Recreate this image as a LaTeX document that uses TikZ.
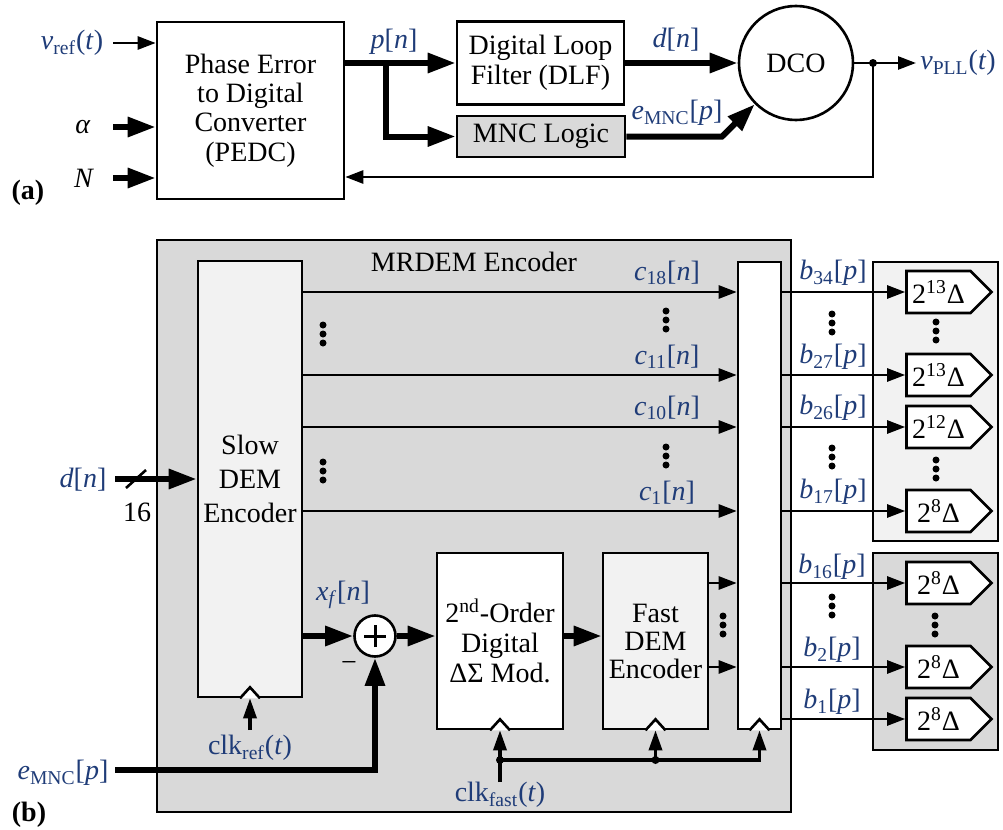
\documentclass[tikz,border=0pt]{standalone}
\usepackage{fontspec}
\setmainfont{Liberation Serif}
\usepackage{tikz}
\usetikzlibrary{arrows.meta,positioning,shapes.symbols}
\definecolor{pllBlue}{HTML}{1F3C78}
\definecolor{pllGray}{HTML}{D9D9D9}
\definecolor{pllLight}{HTML}{F2F2F2}
\newcommand{\labfont}{\fontsize{14}{15.5}\selectfont}
\newcommand{\sigof}[2]{\textit{#1}[\textit{#2}]}
\newcommand{\sigsub}[3]{\textit{#1}\textsubscript{#2}[\textit{#3}]}
\newcommand{\vdotsat}[1]{\fill (#1) circle (1.75pt) ++(0pt,4.5pt) circle (1.75pt) ++(0pt,-9pt) circle (1.75pt);}
\newcommand{\clkmark}[1]{\draw[wire, fill=white] ([xshift=-5pt]#1.south) -- ++(5pt,5.5pt) -- ++(5pt,-5.5pt);}
\tikzset{
  blk/.style={
    rectangle,
    draw,
    line width=1.3pt,
    fill=white,
    align=center,
    inner sep=0pt,
    font=\labfont
  },
  dac/.style={
    signal,
    signal to=east,
    draw,
    line width=1.3pt,
    fill=white,
    inner sep=0pt,
    minimum width=42.5pt,
    minimum height=21pt,
    font=\labfont
  },
  sumnode/.style={circle, draw, line width=1.3pt, fill=white, minimum size=20.5pt, inner sep=0pt},
  lab/.style={font=\labfont, inner sep=2pt},
  sig/.style={lab, text=pllBlue},
  wire/.style={line width=1.3pt},
  bus/.style={line width=3pt},
  arrow/.style={wire, -{Triangle[length=9pt,width=6.5pt]}},
  busarrow/.style={bus, -{Triangle[length=14pt,width=9.5pt]}},
  clkarrow/.style={line width=1.7pt, -{Triangle[length=10pt,width=6.5pt]}}
}
\begin{document}
\begin{tikzpicture}[x=0.5pt,y=-0.5pt]
  \useasboundingbox (0,0) rectangle (1003,830);

  % (a) the PLL
  \node[blk, minimum width=93.5pt, minimum height=88.5pt, font=\fontsize{14}{14.6}\selectfont] (pedc) at (250.5,110.5) {Phase Error\\to Digital\\Converter\\(PEDC)};
  \node[blk, minimum width=83.5pt, minimum height=41.5pt, font=\fontsize{14}{15}\selectfont] (dlf) at (540.5,63) {Digital Loop\\Filter (DLF)};
  \node[blk, fill=pllGray, minimum width=84pt, minimum height=20.5pt] (mnc) at (541,136.5) {MNC Logic};
  \node[blk, circle, minimum size=57pt] (dco) at (796,63) {DCO};

  \node[sig] (vref) at (72,43) {\textit{v}\textsubscript{ref}(\textit{t})};
  \node[lab] (alpha) at (83,127) {\textit{α}};
  \node[lab] (nin) at (84,178) {\textit{N}};
  \node[lab, font=\labfont\bfseries] (tagA) at (28,193) {(a)};
  \node[sig] (pn) at (394,42) {\sigof{p}{n}};
  \node[sig] (dn) at (676,40) {\sigof{d}{n}};
  \node[sig] (emnc) at (677,113) {\sigsub{e}{MNC}{p}};
  \node[sig, anchor=west] (vpll) at (916,63) {\textit{v}\textsubscript{PLL}(\textit{t})};

  \coordinate (vrefin) at (113,43);
  \coordinate (alphain) at (113,127);
  \coordinate (nin0) at (113,178);
  \coordinate (pbr) at (386,63);
  \coordinate (mbend) at (722,136.5);
  \coordinate (fbdot) at (873,63);
  \coordinate (fbturn) at (873,177);

  \draw[arrow] (vrefin) -- (vrefin -| pedc.west);
  \draw[busarrow] (alphain) -- (alphain -| pedc.west);
  \draw[busarrow] (nin0) -- (nin0 -| pedc.west);
  \draw[busarrow] (pedc.east |- dlf) -- (dlf.west);
  \draw[busarrow] (pbr) |- (mnc.west);
  \draw[busarrow] (dlf.east) -- (dco.west);
  \draw[busarrow] (mnc.east) -- (mbend) -- (dco.225);
  \draw[wire] (dco.east) -- (fbdot);
  \draw[arrow] (fbdot) -- (vpll.west);
  \draw[arrow] (fbdot) -- (fbturn) -- (fbturn -| pedc.east);
  \fill (fbdot) circle (2pt);

  % (b) the MRDEM encoder
  \node[blk, fill=pllGray, minimum width=317pt, minimum height=286pt] (mrdem) at (474,526) {};
  \node[lab] (mrdemtitle) at (474,262) {MRDEM Encoder};
  \node[blk, fill=pllLight, minimum width=52pt, minimum height=218pt, font=\fontsize{14}{17}\selectfont] (slow) at (250,479) {Slow\\DEM\\Encoder};
  \node[blk, minimum width=21.5pt, minimum height=233.5pt] (mux) at (759.5,495.5) {};
  \node[blk, minimum width=63pt, minimum height=88pt, font=\fontsize{14}{15}\selectfont] (dsm) at (500,641) {2\textsuperscript{nd}-Order\\Digital\\ΔΣ Mod.};
  \node[blk, fill=pllLight, minimum width=52.5pt, minimum height=88pt, font=\fontsize{14}{14}\selectfont] (fast) at (655.5,641) {Fast\\DEM\\Encoder};
  \node[sumnode] (sum) at (375,636) {};

  \node[blk, fill=pllLight, minimum width=62.5pt, minimum height=139.5pt] (hibank) at (935.5,401.5) {};
  \node[blk, fill=pllGray, minimum width=62.5pt, minimum height=98.5pt] (lobank) at (935.5,651.5) {};
  \node[dac] (dac34) at (938.5,292) {2\textsuperscript{13}Δ};
  \node[dac] (dac27) at (938.5,375) {2\textsuperscript{13}Δ};
  \node[dac] (dac26) at (938.5,427) {2\textsuperscript{12}Δ};
  \node[dac] (dac17) at (938.5,511) {2\textsuperscript{8}Δ};
  \node[dac] (dac16) at (938.5,583) {2\textsuperscript{8}Δ};
  \node[dac] (dac2) at (938.5,667) {2\textsuperscript{8}Δ};
  \node[dac] (dac1) at (938.5,719) {2\textsuperscript{8}Δ};

  \node[sig] (dnb) at (83,480) {\sigof{d}{n}};
  \node[lab] (width16) at (137,512) {16};
  \node[sig] (emncb) at (63,773) {\sigsub{e}{MNC}{p}};
  \node[lab, font=\labfont\bfseries] (tagB) at (29,815) {(b)};
  \node[sig] (xf) at (343,595) {\textit{x}\textsubscript{\textit{f}}[\textit{n}]};
  \node[lab] (minus) at (349,666) {−};
  \node[sig] (clkref) at (250,748) {clk\textsubscript{ref}(\textit{t})};
  \node[sig] (clkfast) at (500,795) {clk\textsubscript{fast}(\textit{t})};

  \node[sig] (c18) at (667,273) {\sigsub{c}{18}{n}};
  \node[sig] (c11) at (667,357) {\sigsub{c}{11}{n}};
  \node[sig] (c10) at (667,408) {\sigsub{c}{10}{n}};
  \node[sig] (c1) at (667,493) {\sigsub{c}{1}{n}};
  \node[sig] (b34) at (833,273) {\sigsub{b}{34}{p}};
  \node[sig] (b27) at (833,357) {\sigsub{b}{27}{p}};
  \node[sig] (b26) at (833,408) {\sigsub{b}{26}{p}};
  \node[sig] (b17) at (833,492) {\sigsub{b}{17}{p}};
  \node[sig] (b16) at (832,567) {\sigsub{b}{16}{p}};
  \node[sig] (b2) at (832,650) {\sigsub{b}{2}{p}};
  \node[sig] (b1) at (832,702) {\sigsub{b}{1}{p}};

  \coordinate (din) at (115,479);
  \coordinate (slash) at (136,479);
  \coordinate (ein) at (115,770);
  \coordinate (clkrefin) at (250,730);
  \coordinate (cf0) at (500,782);
  \coordinate (cf1) at (500,760);
  \coordinate (cf2) at (655.5,760);

  \draw[busarrow] (din) -- (din -| slow.west);
  \draw[wire] ([shift={(-5pt,-4.5pt)}]slash) -- ([shift={(5pt,4.5pt)}]slash);

  \draw[arrow] (slow.east |- dac34) -- (mux.west |- dac34);
  \draw[arrow] (slow.east |- dac27) -- (mux.west |- dac27);
  \draw[arrow] (slow.east |- dac26) -- (mux.west |- dac26);
  \draw[arrow] (slow.east |- dac17) -- (mux.west |- dac17);
  \draw[arrow] (fast.east |- dac16) -- (mux.west |- dac16);
  \draw[arrow] (fast.east |- dac2) -- (mux.west |- dac2);

  \draw[arrow] (mux.east |- dac34) -- (dac34.west);
  \draw[arrow] (mux.east |- dac27) -- (dac27.west);
  \draw[arrow] (mux.east |- dac26) -- (dac26.west);
  \draw[arrow] (mux.east |- dac17) -- (dac17.west);
  \draw[arrow] (mux.east |- dac16) -- (dac16.west);
  \draw[arrow] (mux.east |- dac2) -- (dac2.west);
  \draw[arrow] (mux.east |- dac1) -- (dac1.west);

  \draw[busarrow] (slow.east |- sum) -- (sum.west);
  \draw[busarrow] (sum.east) -- (dsm.west |- sum);
  \draw[busarrow] (dsm.east |- sum) -- (fast.west |- sum);
  \draw[busarrow] (ein) -| (sum.south);
  \draw[line width=1.5pt] ([xshift=-5.5pt]sum.center) -- ([xshift=5.5pt]sum.center)
    ([yshift=-5.5pt]sum.center) -- ([yshift=5.5pt]sum.center);

  % clocks
  \draw[clkarrow] (clkrefin) -- (slow.south);
  \draw[clkarrow] (cf0) -- (dsm.south);
  \draw[clkarrow] (cf1) -| (mux.south);
  \draw[clkarrow] (cf2) -- (fast.south);
  \fill (cf1) circle (2pt) (cf2) circle (2pt);
  \clkmark{slow}
  \clkmark{dsm}
  \clkmark{fast}
  \clkmark{mux}

  % dots
  \vdotsat{323,334}
  \vdotsat{323,471}
  \vdotsat{666,320}
  \vdotsat{666,456}
  \vdotsat{723,625}
  \vdotsat{832,323}
  \vdotsat{832,457}
  \vdotsat{832,606}
  \vdotsat{936,331}
  \vdotsat{936,469}
  \vdotsat{935,625}
\end{tikzpicture}
\end{document}
